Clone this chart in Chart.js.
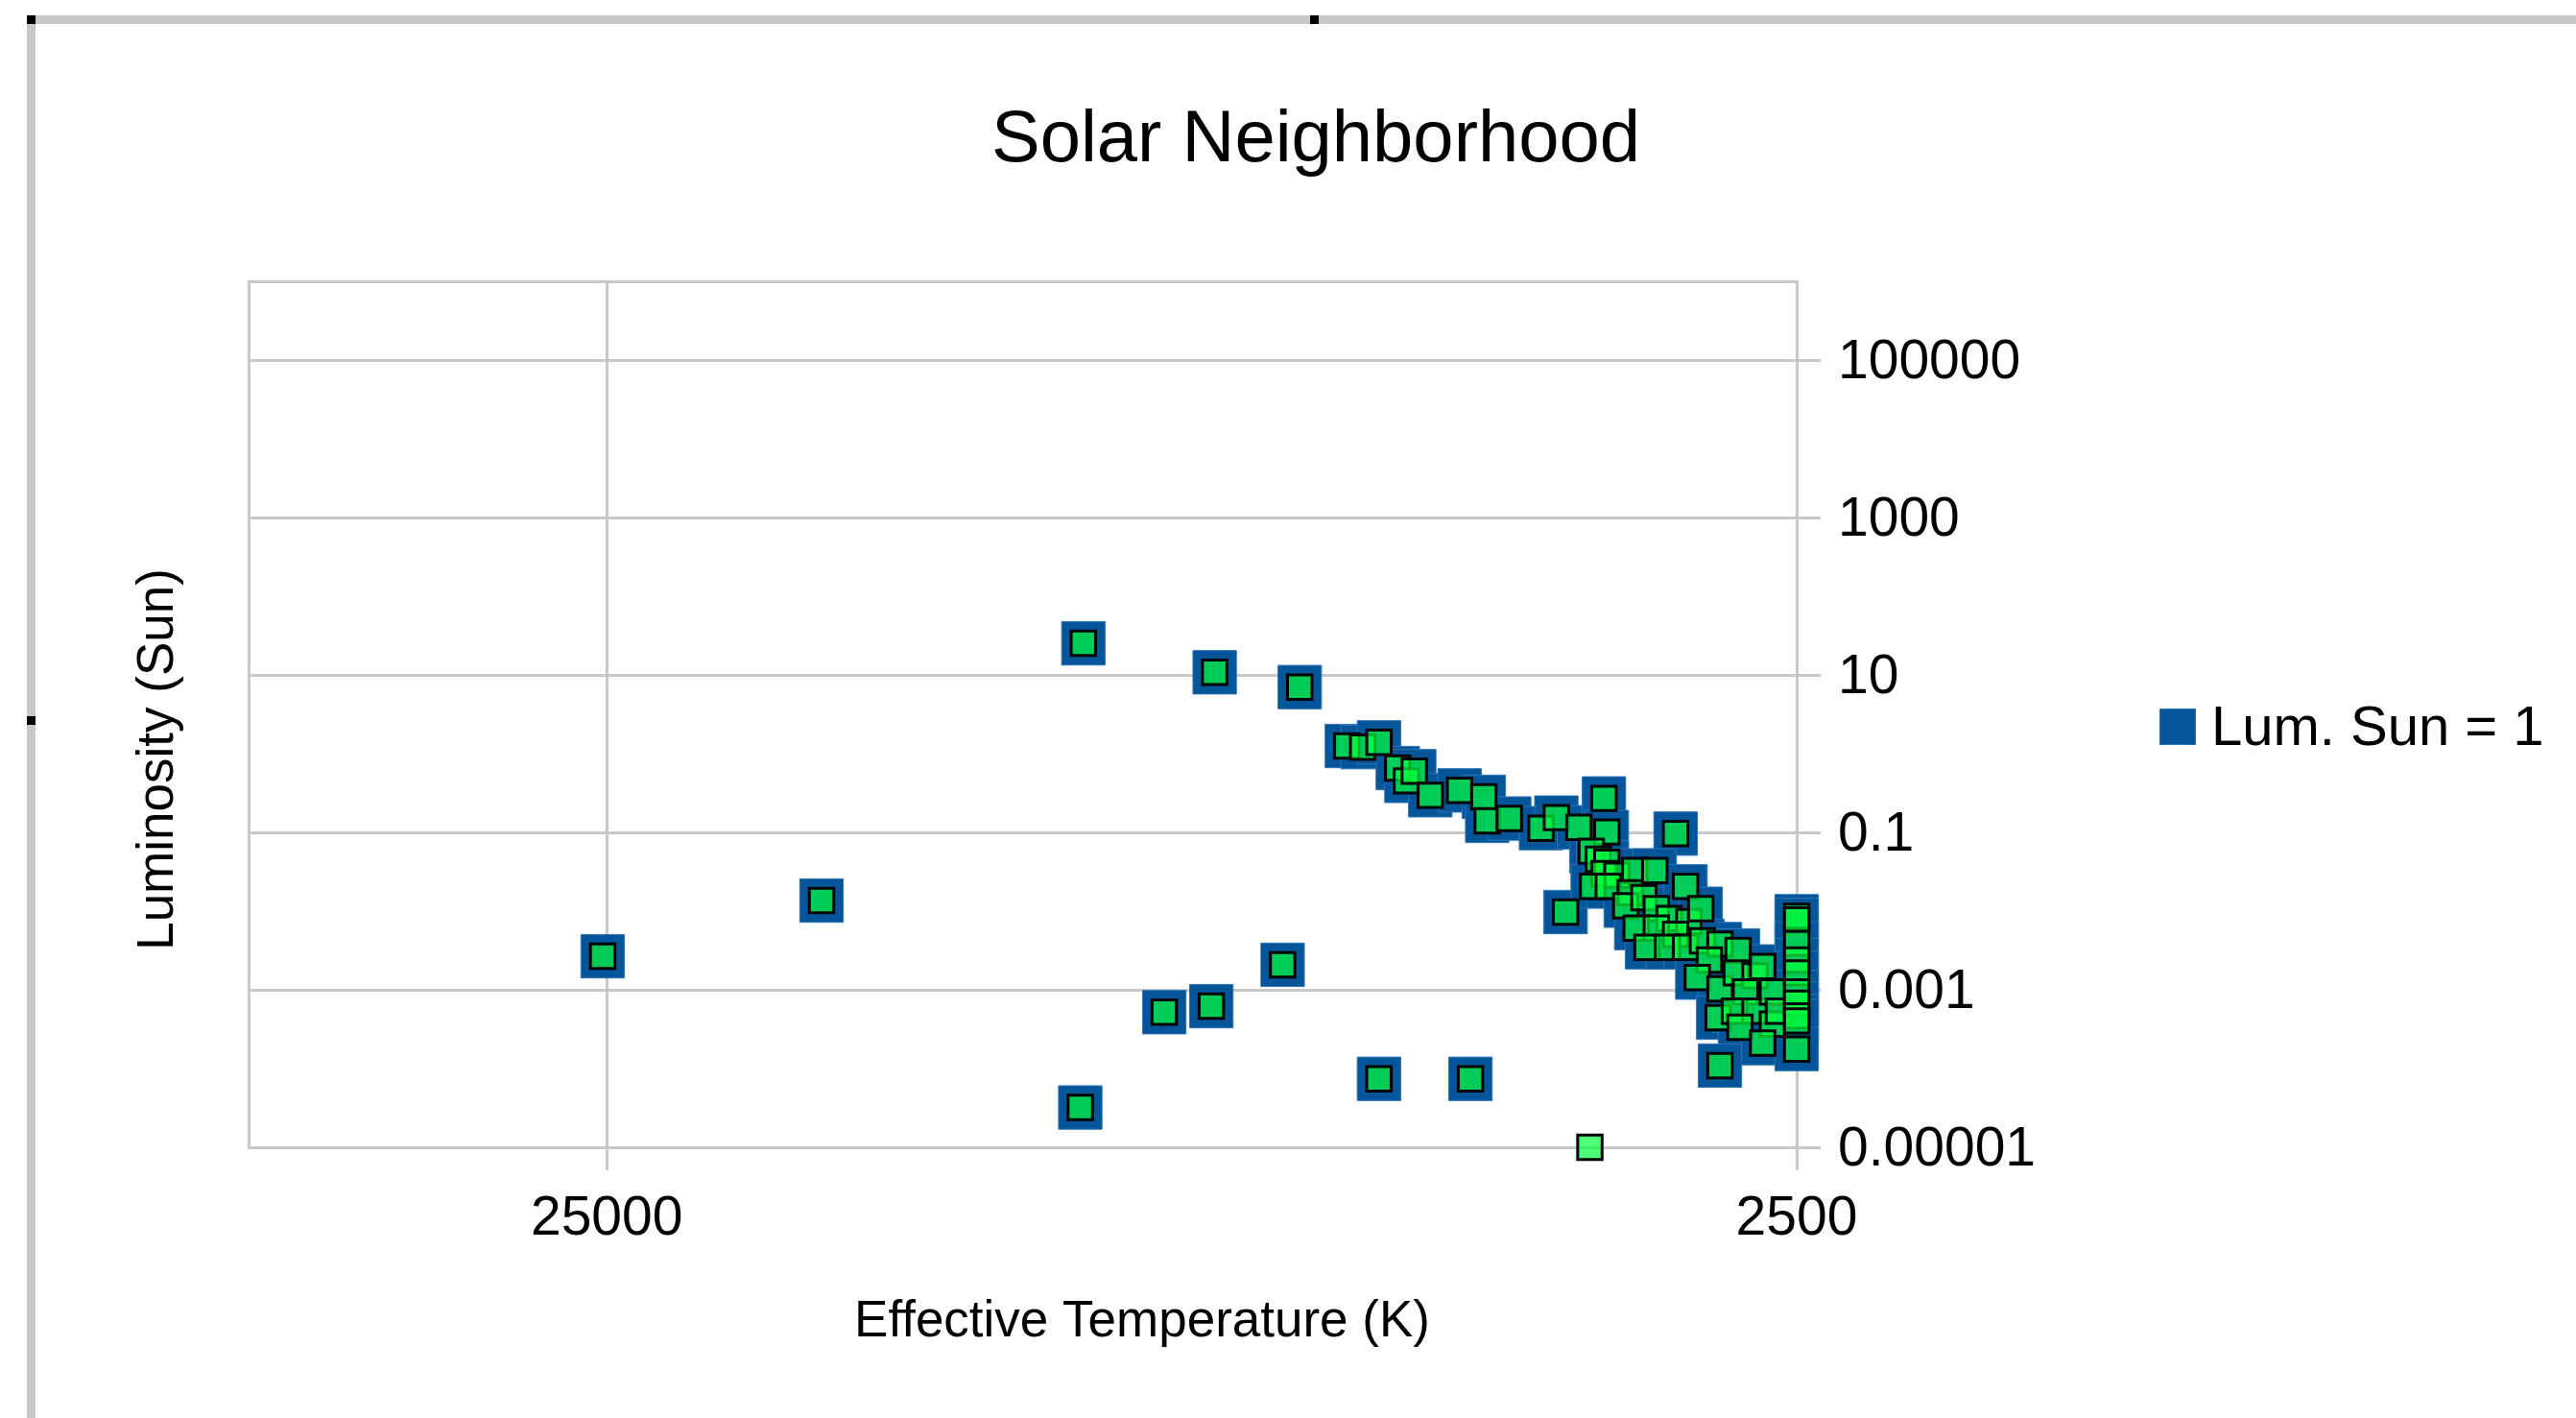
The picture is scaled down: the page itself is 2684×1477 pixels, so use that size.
<!DOCTYPE html>
<html>
<head>
<meta charset="utf-8">
<title>Solar Neighborhood</title>
<script src="https://cdn.jsdelivr.net/npm/chart.js@4/dist/chart.umd.min.js"></script>
<style>
  html, body { margin: 0; padding: 0; background: #fff; overflow: hidden; }
  #wrap { position: relative; width: 2684px; height: 1477px; }
  #c { position: absolute; left: 0; top: 0; }
  .bar { position: absolute; background: #c8c8c8; }
  .mark { position: absolute; background: #000; }
</style>
</head>
<body>
<div id="wrap">
  <canvas id="c" width="2684" height="1477"></canvas>
  <div class="bar" style="left:28px;top:16px;width:2656px;height:9px"></div>
  <div class="bar" style="left:28px;top:16px;width:9px;height:1461px"></div>
  <div class="mark" style="left:28px;top:16px;width:9px;height:9px"></div>
  <div class="mark" style="left:1365px;top:16px;width:9px;height:9px"></div>
  <div class="mark" style="left:28px;top:746px;width:9px;height:9px"></div>
</div>
<script>
// Nearby stars: effective temperature (K) and luminosity (Sun = 1)
const starTemps = [
  25200, 16500, 9940, 7710, 6540, 6760, 8500, 7760, 10000, 5610, 4700,
  5970, 5790, 5610, 5410, 5320, 5240, 5080, 4800, 4580, 4550, 4360, 4100, 3980, 3810, 3630, 3610, 3160, 3910,
  3720, 3670, 3610, 3630, 3540, 3420, 3290, 3710, 3600, 3450, 3480, 3360, 3280, 3200, 3100, 3080, 3010,
  3410, 3280, 3160, 3340, 3210, 3100, 3000, 2900, 2800, 2960, 3030, 2900, 2810, 2710, 2670, 2760,
  2910, 2820, 2710, 2620, 2790, 2620, 2590, 2670, 2900,
  2500, 2500, 2500, 2500, 2500, 2500, 2500, 2500, 2500, 2500
];
const starLums = [
  0.00267, 0.0136, 25.2, 10.8, 7.0, 0.00208, 0.00052, 0.00062, 0.000032, 0.000074, 0.000074,
  1.25, 1.21, 1.39, 0.656, 0.451, 0.598, 0.296, 0.341, 0.283, 0.140, 0.150, 0.113, 0.154, 0.116, 0.270, 0.101, 0.0964, 0.00972,
  0.0576, 0.0456, 0.0415, 0.0299, 0.0285, 0.0328, 0.0328, 0.0206, 0.0206, 0.0171, 0.0117, 0.0148, 0.0107, 0.00806, 0.0206, 0.00734, 0.0107,
  0.00609, 0.00609, 0.00505, 0.00347, 0.00347, 0.00347, 0.00419, 0.00381, 0.00316, 0.00239, 0.00143, 0.00103, 0.00164, 0.0015, 0.00198, 0.000937,
  0.000443, 0.000534, 0.000534, 0.000937, 0.000334, 0.000367, 0.000534, 0.00021, 0.000109,
  0.0086, 0.0077, 0.00389, 0.00239, 0.00164, 0.000937, 0.000675, 0.000464, 0.000403, 0.000177
];
// a star that sits on the lower edge, shown only with the inner marker
const edgeTemps = [3730];
const edgeLums = [0.00001];

const seriesName = 'Lum. Sun = 1';
const xTickValues = [25000, 2500];
const xTickLabels = ['25000', '2500'];
const yTickValues = [0.00001, 0.001, 0.1, 10, 1000, 100000];
const yTickLabels = ['0.00001', '0.001', '0.1', '10', '1000', '100000'];

const FONT = '"Liberation Sans", Arial, sans-serif';
const GRID = '#c8c8c8';
const BLUE = '#04559a';

const bluePoints = starTemps.map((t, i) => ({ x: t, y: starLums[i] }));
const greenPoints = bluePoints.concat(edgeTemps.map((t, i) => ({ x: t, y: edgeLums[i] })));

const decorations = {
  id: 'decorations',
  beforeDatasetsDraw(chart) {
    const { ctx, chartArea: a } = chart;
    ctx.save();
    ctx.strokeStyle = GRID;
    ctx.lineWidth = 3;
    ctx.strokeRect(a.left + 0.5, a.top + 0.5, a.right - a.left, a.bottom - a.top);
    ctx.restore();
  },
  afterDraw(chart) {
    const { ctx } = chart;
    ctx.save();
    ctx.fillStyle = '#000';
    ctx.textBaseline = 'alphabetic';
    // chart title
    ctx.font = '76px ' + FONT;
    ctx.textAlign = 'center';
    ctx.fillText('Solar Neighborhood', 1371, 168);
    // x axis title
    ctx.font = '53px ' + FONT;
    ctx.fillText('Effective Temperature (K)', 1190, 1392);
    // y axis title
    ctx.save();
    ctx.translate(180, 791);
    ctx.rotate(-Math.PI / 2);
    ctx.fillText('Luminosity (Sun)', 0, 0);
    ctx.restore();
    // legend
    const ds = chart.data.datasets[1];
    ctx.fillStyle = BLUE;
    ctx.fillRect(2250, 738, 38, 38);
    ctx.strokeStyle = '#2d74b5';
    ctx.lineWidth = 1;
    ctx.strokeRect(2250.5, 738.5, 37, 37);
    ctx.fillStyle = '#000';
    ctx.font = '58px ' + FONT;
    ctx.textAlign = 'left';
    ctx.fillText(ds.label, 2304, 776);
    ctx.restore();
  }
};

new Chart(document.getElementById('c'), {
  type: 'scatter',
  data: {
    datasets: [
      {
        label: '',
        data: greenPoints,
        pointStyle: 'rect',
        pointRadius: 18,
        pointBackgroundColor: 'rgba(0,255,60,0.7)',
        pointBorderColor: '#000',
        pointBorderWidth: 3,
        clip: false
      },
      {
        label: seriesName,
        data: bluePoints,
        pointStyle: 'rect',
        pointRadius: 32,
        pointBackgroundColor: BLUE,
        pointBorderColor: '#2d74b5',
        pointBorderWidth: 1,
        clip: false
      }
    ]
  },
  options: {
    responsive: false,
    animation: false,
    devicePixelRatio: 1,
    events: [],
    layout: { padding: { left: 259, top: 293, right: 512, bottom: 172 } },
    plugins: {
      legend: { display: false },
      title: { display: false },
      tooltip: { enabled: false }
    },
    scales: {
      x: {
        type: 'logarithmic',
        position: 'bottom',
        reverse: true,
        min: 2500,
        max: 50000,
        afterBuildTicks(scale) { scale.ticks = xTickValues.map(v => ({ value: v })); },
        afterFit(scale) { scale.height = 110; },
        grid: { color: GRID, lineWidth: 3, tickLength: 24, drawTicks: true },
        border: { display: false },
        ticks: {
          color: '#000',
          font: { family: FONT, size: 57 },
          padding: 17,
          maxRotation: 0,
          autoSkip: false,
          callback: (v, i) => xTickLabels[i]
        }
      },
      y: {
        type: 'logarithmic',
        position: 'right',
        min: 0.00001,
        max: 1000000,
        afterBuildTicks(scale) { scale.ticks = yTickValues.map(v => ({ value: v })); },
        afterFit(scale) { scale.width = 300; },
        grid: { color: GRID, lineWidth: 3, tickLength: 25, drawTicks: true },
        border: { display: false },
        ticks: {
          color: '#000',
          font: { family: FONT, size: 57 },
          padding: 18,
          labelOffset: 3,
          autoSkip: false,
          callback: (v, i) => yTickLabels[i]
        }
      }
    }
  },
  plugins: [decorations]
});
</script>
</body>
</html>
